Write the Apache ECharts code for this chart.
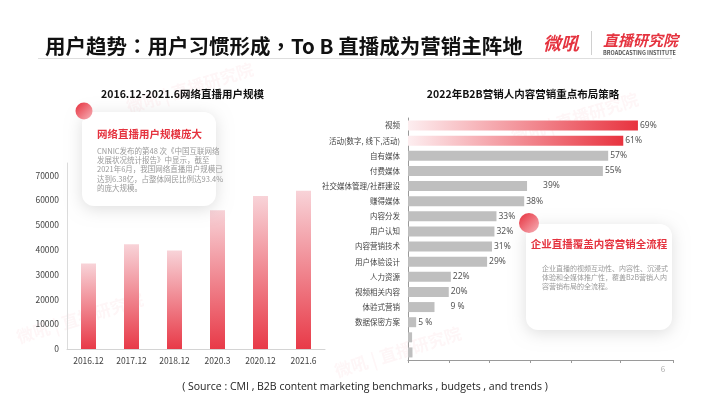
<!DOCTYPE html>
<html>
<head>
<meta charset="utf-8">
<script src="https://cdn.jsdelivr.net/npm/echarts@6/dist/echarts.min.js"></script>
<style>
  html, body { margin: 0; padding: 0; background: #fff; }
  #main { width: 710px; height: 399px; }
</style>
</head>
<body>
<div id="main"></div>
<script>
// left chart: live streaming users (10k)
const userMonths = ['2016.12', '2017.12', '2018.12', '2020.3', '2020.12', '2021.6'];
const userCounts = [34431, 42209, 39676, 55982, 61685, 63769];

// right chart: B2B content strategy
const strategyNames = [
  '视频', '活动(数字, 线下,活动)', '自有媒体', '付费媒体', '社交媒体管理/社群建设', '赚得媒体',
  '内容分发', '用户认知', '内容营销技术', '用户体验设计', '人力资源', '视频相关内容',
  '体验式营销', '数据保密方案', '', ''
];
// bar lengths as drawn against the bottom axis
const strategyBars = [56.4, 52.8, 49.1, 47.8, 29.2, 28.5, 21.7, 21.2, 20.6, 19.4, 10.5, 10, 6.5, 2, 1, 1.1];
const strategyLabels = ['69%', '61%', '57%', '55%', '39%', '38%', '33%', '32%', '31%', '29%', '22%', '20%', '9 %', '5 %', '', ''];
const strategyTicks = [0, 10, 20, 30, 40, 52, 65];

const CJK = "'Noto Sans CJK SC', 'Noto Sans', sans-serif";
const RED = '#e5333f';

var chartDom = document.getElementById('main');
var myChart = echarts.init(chartDom);

const wideGap = { 4: 14, 12: 14 }; // labels the source set further from their bar

const strategyData = strategyBars.map(function (v, i) {
  const item = { value: v };
  if (i < 2) {
    item.itemStyle = {
      color: new echarts.graphic.LinearGradient(0, 0, 1, 0, [
        { offset: 0, color: '#fdeef0' },
        { offset: 1, color: '#e8333f' }
      ])
    };
  }
  if (wideGap[i]) item.label = { offset: [wideGap[i], 0] };
  return item;
});

function circle(cx, cy, r) {
  return {
    type: 'circle',
    shape: { cx: cx, cy: cy, r: r },
    style: {
      fill: new echarts.graphic.LinearGradient(0, 0, 1, 1, [
        { offset: 0, color: '#e62f3c' },
        { offset: 1, color: '#f7b3ba' }
      ])
    },
    z: 102
  };
}

function card(x, y, w, h) {
  return {
    type: 'rect',
    shape: { x: x, y: y, width: w, height: h, r: 12 },
    style: {
      fill: '#fff',
      shadowBlur: 16,
      shadowColor: 'rgba(0,0,0,0.13)',
      shadowOffsetY: 3
    },
    z: 100
  };
}

function txt(x, y, text, font, fill, align, vAlign, extra) {
  const s = { text: text, font: font, fill: fill, align: align || 'left', verticalAlign: vAlign || 'middle' };
  if (extra) Object.assign(s, extra);
  return { type: 'text', x: x, y: y, style: s, z: 103 };
}

// faint "微吼 | 直播研究院" watermark
function mark(x, y) {
  return {
    type: 'text', x: x, y: y, rotation: 0.3, z: 0,
    style: { text: '微吼 | 直播研究院', font: 'bold 17px ' + CJK, fill: 'rgba(229,51,63,0.045)', align: 'center', verticalAlign: 'middle' }
  };
}

var option = {
  animation: false,
  backgroundColor: '#fff',
  textStyle: { fontFamily: CJK },
  grid: [
    { left: 67, width: 258, top: 163, bottom: 50 },
    { left: 408, right: 37, top: 118, bottom: 39 }
  ],
  xAxis: [
    {
      gridIndex: 0,
      type: 'category',
      data: userMonths,
      axisLine: { lineStyle: { color: '#d4d4d4' } },
      axisTick: { show: false },
      axisLabel: { fontSize: 8.5, color: '#444', margin: 8 }
    },
    {
      gridIndex: 1,
      type: 'value',
      min: 0,
      max: 65,
      axisLine: { show: true, lineStyle: { color: '#9a9a9a' } },
      axisTick: { show: true, length: 3, customValues: strategyTicks, lineStyle: { color: '#9a9a9a' } },
      axisLabel: { show: false, customValues: strategyTicks },
      splitLine: { show: false }
    }
  ],
  yAxis: [
    {
      gridIndex: 0,
      type: 'value',
      min: 0,
      max: 75000,
      interval: 10000,
      axisLine: { show: true, lineStyle: { color: '#dcdcdc' } },
      axisTick: { show: false },
      splitLine: { show: false },
      axisLabel: {
        fontSize: 8.5,
        color: '#444',
        margin: 8,
        showMaxLabel: false,
        formatter: function (v) { return String(v); }
      }
    },
    {
      gridIndex: 1,
      type: 'category',
      inverse: true,
      data: strategyNames,
      axisLine: { show: true, lineStyle: { color: '#9a9a9a' } },
      axisTick: { show: false },
      axisLabel: { fontSize: 7.5, color: '#444', margin: 8 }
    }
  ],
  series: [
    {
      type: 'bar',
      xAxisIndex: 0,
      yAxisIndex: 0,
      barWidth: 15,
      data: userCounts,
      itemStyle: {
        color: new echarts.graphic.LinearGradient(0, 0, 0, 1, [
          { offset: 0, color: '#f8d3d8' },
          { offset: 1, color: '#e83a48' }
        ])
      }
    },
    {
      type: 'bar',
      xAxisIndex: 1,
      yAxisIndex: 1,
      barWidth: 10,
      data: strategyData,
      itemStyle: { color: '#bfbfbf' },
      label: {
        show: true,
        position: 'right',
        distance: 2,
        fontSize: 8.5,
        color: '#555',
        fontFamily: "'Noto Sans', sans-serif",
        formatter: function (p) { return strategyLabels[p.dataIndex]; }
      }
    }
  ],
  graphic: [
    mark(80, 318),
    mark(190, 88),
    mark(398, 352),
    mark(575, 118),

    // header
    txt(45, 46, '用户趋势：用户习惯形成，To B 直播成为营销主阵地', "bold 20.5px 'Noto Sans CJK TC', sans-serif", '#111'),
    { type: 'line', shape: { x1: 38, y1: 58.5, x2: 672, y2: 58.5 }, style: { stroke: '#dedede', lineWidth: 1 }, z: 100 },
    txt(543, 43, '微吼', 'italic bold 18px ' + CJK, RED),
    { type: 'line', shape: { x1: 591.5, y1: 31, x2: 591.5, y2: 55 }, style: { stroke: '#d0d0d0', lineWidth: 1 }, z: 100 },
    txt(603, 40, '直播研究院', 'italic bold 15px ' + CJK, RED),
    txt(603, 53, 'BROADCASTING INSTITUTE', 'bold 5.5px ' + CJK, '#555'),

    // chart titles
    txt(182.5, 94, '2016.12-2021.6网络直播用户规模', 'bold 10.5px ' + CJK, '#111', 'center'),
    txt(523, 94, '2022年B2B营销人内容营销重点布局策略', 'bold 10.5px ' + CJK, '#111', 'center'),

    // left callout
    card(82, 112, 134, 94),
    circle(84, 111, 8.5),
    txt(97, 134.5, '网络直播用户规模庞大', 'bold 10.5px ' + CJK, RED),
    txt(97, 146, 'CNNIC发布的第48 次《中国互联网络\n发展状况统计报告》中显示，截至\n2021年6月，我国网络直播用户规模已\n达到6.38亿，占整体网民比例达93.4%\n的庞大规模。',
      '7.5px ' + CJK, '#9a9a9a', 'left', 'top', { lineHeight: 9.4 }),

    // right callout
    card(526, 224, 146, 106),
    circle(529, 223, 10),
    txt(599, 244, '企业直播覆盖内容营销全流程', 'bold 10.5px ' + CJK, RED, 'center'),
    txt(542, 263.5, '企业直播的视频互动性、内容性、沉浸式\n体验和全媒体推广性，覆盖B2B营销人内\n容营销布局的全流程。',
      '7px ' + CJK, '#9a9a9a', 'left', 'top', { lineHeight: 9 }),

    // footer
    txt(365, 387.5, '( Source : CMI , B2B content marketing benchmarks , budgets , and trends )', "10.5px 'Open Sans', sans-serif", '#222', 'center'),
    txt(663, 369, '6', '8px ' + CJK, '#aaa', 'center')
  ]
};

option && myChart.setOption(option);
</script>
</body>
</html>
